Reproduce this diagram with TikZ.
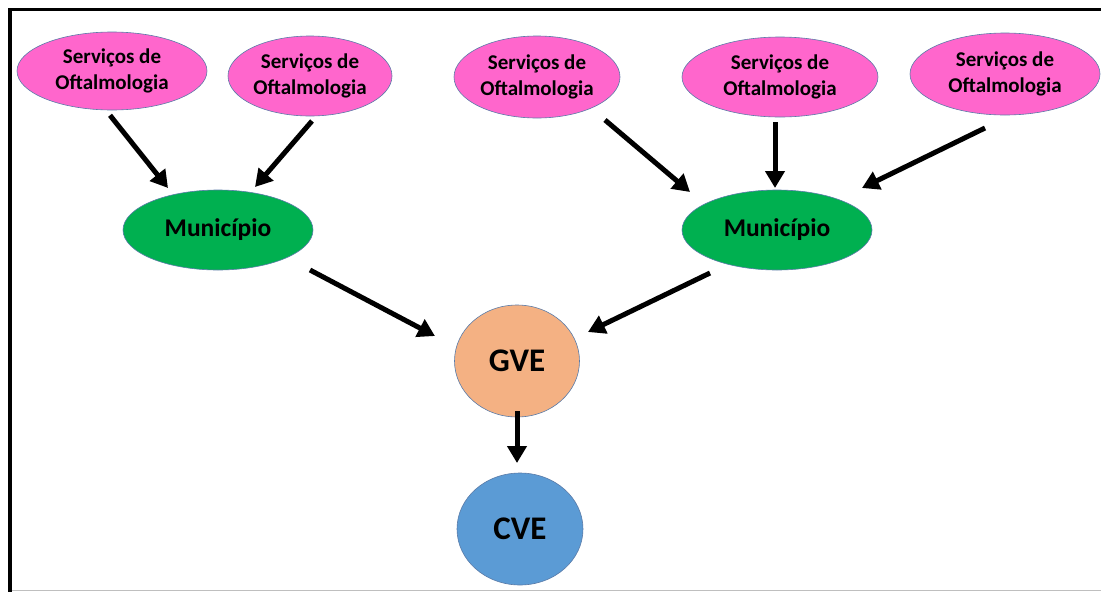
\documentclass[tikz,border=0pt]{standalone}
\usepackage{fontspec}
\setmainfont{Carlito}
\usetikzlibrary{shapes.geometric,arrows.meta}
\definecolor{pinkfill}{HTML}{FF66CC}
\definecolor{greenfill}{HTML}{00B050}
\definecolor{orangefill}{HTML}{F4B183}
\definecolor{bluefill}{HTML}{5B9BD5}
\definecolor{edgeblue}{HTML}{5A7BA8}
\definecolor{framegray}{HTML}{BFBFBF}
\tikzset{
  bubble/.style={ellipse, draw=edgeblue, line width=0.6pt, inner sep=0pt, align=center, text=black},
  service/.style={bubble, fill=pinkfill, font=\fontsize{21}{26}\selectfont\bfseries},
  muni/.style={bubble, fill=greenfill, font=\fontsize{25.5}{30}\selectfont\bfseries, minimum width=190pt, minimum height=80pt},
  hub/.style={bubble, font=\fontsize{33}{38}\selectfont\bfseries},
  flow/.style={line width=5pt, -{Triangle[length=17pt,width=19pt]}},
}
\begin{document}
\begin{tikzpicture}[x=1pt,y=-1pt]
\useasboundingbox (0,0) rectangle (1101,592);
% frame
\draw[framegray, line width=1.5pt] (12,590.5) -- (1101,590.5);
\draw[black, line width=4pt] (10,592) -- (10,8);
\draw[black, line width=3.5pt] (8,9.5) -- (1101,9.5);
% nodes
\node[service, minimum width=190pt, minimum height=78pt] (s1) at (112,71) {Serviços de\\Oftalmologia};
\node[service, minimum width=164pt, minimum height=80pt] (s2) at (310,76) {Serviços de\\Oftalmologia};
\node[service, minimum width=166pt, minimum height=82pt] (s3) at (537,77) {Serviços de\\Oftalmologia};
\node[service, minimum width=196pt, minimum height=80pt] (s4) at (780,77) {Serviços de\\Oftalmologia};
\node[service, minimum width=190pt, minimum height=82pt] (s5) at (1005,74) {Serviços de\\Oftalmologia};
\node[muni] (m1) at (218,230) {Município};
\node[muni] (m2) at (777,230) {Município};
\node[hub, fill=orangefill, minimum width=125pt, minimum height=112pt] (g) at (517,361) {GVE};
\node[hub, fill=bluefill, minimum width=126pt, minimum height=112pt] (c) at (520,529) {CVE};
% connector end points
\coordinate (a1s) at ([shift={(-2,5)}]s1.south);
\coordinate (a1e) at (168,188);
\coordinate (a2s) at (312,121);
\coordinate (a2e) at (255,187);
\coordinate (a3s) at (605,120);
\coordinate (a3e) at (690,192);
\coordinate (a4s) at (775,122);
\coordinate (a4e) at (775,188);
\coordinate (a5s) at (985,128);
\coordinate (a5e) at (862,188);
\coordinate (a6s) at (310,270);
\coordinate (a6e) at (435,336);
\coordinate (a7s) at (710,273);
\coordinate (a7e) at (588,332);
\coordinate (a8s) at ([yshift=6]g.south);
\coordinate (a8e) at (517,463);
\draw[flow] (a1s) -- (a1e);
\draw[flow] (a2s) -- (a2e);
\draw[flow] (a3s) -- (a3e);
\draw[flow] (a4s) -- (a4e);
\draw[flow] (a5s) -- (a5e);
\draw[flow] (a6s) -- (a6e);
\draw[flow] (a7s) -- (a7e);
\draw[flow] (a8s) -- (a8e);
\end{tikzpicture}
\end{document}
